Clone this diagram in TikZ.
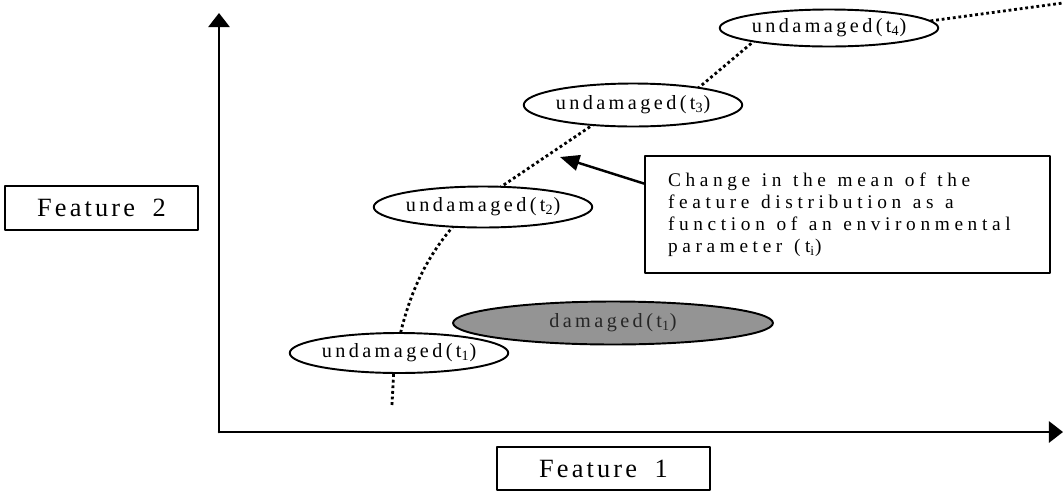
\documentclass[tikz,border=0pt]{standalone}
\usepackage{fontspec}
\setmainfont{Liberation Serif}[LetterSpace=17]
\newfontfamily\featfont{Liberation Serif}[LetterSpace=12, WordSpace=1.8]
\newfontfamily\notefont{Liberation Serif}[LetterSpace=24]
\newcommand\widespaces{\spaceskip=6.6pt\relax}
\usetikzlibrary{shapes.geometric, calc, arrows.meta}
\tikzset{blob/.style = {ellipse, draw, line width=1.1pt, fill=white, inner sep=0pt,
                        font=\fontsize{11.5}{13}\selectfont}}
\tikzset{featbox/.style = {draw, line width=1.1pt, inner sep=0pt,
                           font=\fontsize{15}{17}\featfont}}
\tikzset{trend/.style = {line width=1.6pt, dash pattern=on 1.6pt off 1.6pt, line cap=butt}}
\tikzset{axis/.style = {line width=1.5pt, -{Triangle[length=8pt, width=12pt]}}}
\tikzset{pointer/.style = {line width=1.4pt, -{Triangle[length=11pt, width=9pt]}}}

\begin{document}
\begin{tikzpicture}[x=0.02cm, y=-0.02cm, line cap=round, line join=round]
		\useasboundingbox (0,0) rectangle (1063,491);

		% Coordinates
		\coordinate (O) at (219,432);
		\coordinate (Ytop) at (219,13);
		\coordinate (Xend) at (1063,432);
		\coordinate (tip) at (560,157);

		% Axes
		\draw[axis] (O) -- (Ytop);
		\draw[axis] (O) -- (Xend);

		% Mean of the distribution (joints hidden under the ellipses)
		\draw[trend] (392,405) -- (394,365) .. controls (405,300) and (425,250) .. (474,205)
			-- (600,120) -- (690,95) -- (760,36) -- (900,25) -- (1063,3);

		% Ellipses
		\node[blob, minimum width=4.30cm, minimum height=0.80cm] (u1) at (399,353) {undamaged(t\textsubscript{1})};
		\node[blob, fill=black!42, text=black!85, minimum width=6.40cm, minimum height=0.86cm] (d1) at (613,323) {damaged(t\textsubscript{1})};
		\node[blob, minimum width=4.34cm, minimum height=0.82cm] (u2) at (483,207) {undamaged(t\textsubscript{2})};
		\node[blob, minimum width=4.30cm, minimum height=0.86cm] (u3) at (633,105) {undamaged(t\textsubscript{3})};
		\node[blob, minimum width=4.18cm, minimum height=0.74cm] (u4) at (829,28) {undamaged(t\textsubscript{4})};

		% Nodes
		\node[featbox, minimum width=3.86cm, minimum height=0.88cm] (f2) at (101.5,208) {Feature 2};
		\node[featbox, minimum width=4.26cm, minimum height=0.86cm] (f1) at (603.5,468.5) {Feature 1};
		\node[draw, line width=1.1pt, minimum width=8.1cm, minimum height=2.34cm, text width=7.18cm,
			align=left, font=\fontsize{11}{12.5}\notefont] (note) at (847.5,214.5)
			{\widespaces Change in the mean of the\\feature distribution as a\\function of an environmental\\parameter (t\textsubscript{i})};

		% Arrow
		\draw[pointer] ($(note.north west)!0.24!(note.south west)$) -- (tip);
	\end{tikzpicture}
\end{document}
